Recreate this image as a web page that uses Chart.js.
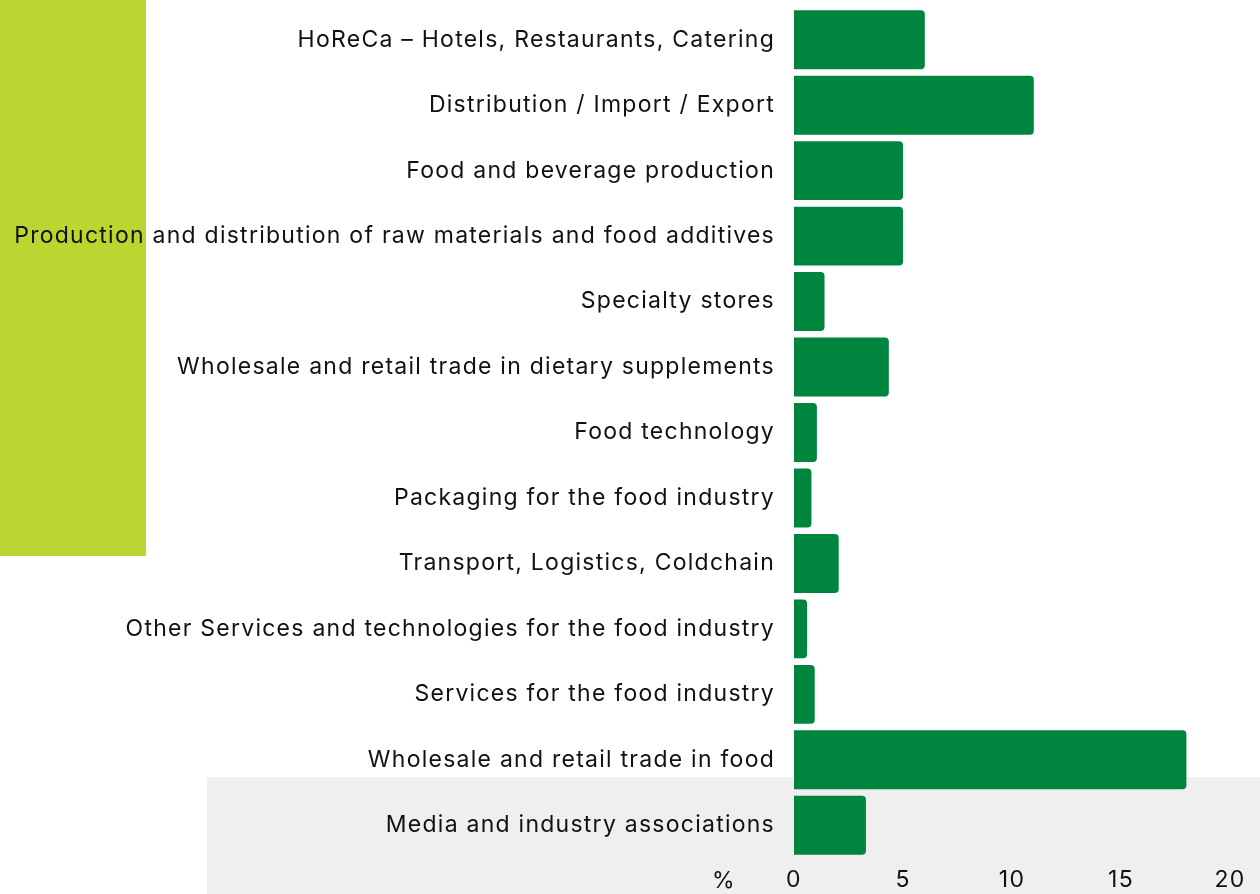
<!DOCTYPE html>
<html>
<head>
<meta charset="utf-8">
<script src="https://cdn.jsdelivr.net/npm/chart.js@4"></script>
<style>
  html, body { margin: 0; padding: 0; background: #ffffff; }
  #wrap { position: relative; width: 1260px; height: 894px; }
</style>
</head>
<body>
<div id="wrap"><canvas id="sectorChart" width="1260" height="894"></canvas></div>
<script>
// Sectors, top to bottom
var sectors = [
  'HoReCa – Hotels, Restaurants, Catering',
  'Distribution / Import / Export',
  'Food and beverage production',
  'Production and distribution of raw materials and food additives',
  'Specialty stores',
  'Wholesale and retail trade in dietary supplements',
  'Food technology',
  'Packaging for the food industry',
  'Transport, Logistics, Coldchain',
  'Other Services and technologies for the food industry',
  'Services for the food industry',
  'Wholesale and retail trade in food',
  'Media and industry associations'
];
// share in %
var shares = [6.0, 11.0, 5.0, 5.0, 1.4, 4.35, 1.05, 0.8, 2.05, 0.6, 0.95, 18.0, 3.3];
var xTicks = [0, 5, 10, 15, 20];

var fontFamily = 'Inter, "Noto Sans", sans-serif';

// background blocks, letter spacing and the % sign
var decoPlugin = {
  id: 'deco',
  beforeUpdate: function (chart) {
    chart.ctx.letterSpacing = '1.25px';
  },
  beforeDraw: function (chart) {
    var ctx = chart.ctx;
    ctx.letterSpacing = '1.25px';
    ctx.save();
    ctx.fillStyle = '#bdd531';
    ctx.fillRect(0, 0, 146, 556);
    ctx.fillStyle = '#efefef';
    ctx.fillRect(207, 777, 1053, 117);
    ctx.restore();
  },
  afterDraw: function (chart) {
    var ctx = chart.ctx;
    var x = chart.scales.x;
    ctx.save();
    ctx.fillStyle = '#111111';
    ctx.font = '23px ' + fontFamily;
    ctx.textAlign = 'center';
    ctx.textBaseline = 'middle';
    ctx.fillText('%', x.getPixelForValue(0) - 70, 881);
    ctx.restore();
  }
};

new Chart(document.getElementById('sectorChart').getContext('2d'), {
  type: 'bar',
  data: {
    labels: sectors,
    datasets: [{
      data: shares,
      backgroundColor: '#00853f',
      borderWidth: 0,
      borderRadius: { topRight: 4, bottomRight: 4 },
      borderSkipped: 'start',
      barPercentage: 0.9,
      categoryPercentage: 1.0
    }]
  },
  options: {
    indexAxis: 'y',
    responsive: false,
    animation: false,
    layout: { padding: { top: 7, right: 30, bottom: 0, left: 0 } },
    plugins: {
      legend: { display: false },
      tooltip: { enabled: false }
    },
    scales: {
      x: {
        min: 0,
        max: 20,
        afterBuildTicks: function (scale) {
          scale.ticks = xTicks.map(function (v) { return { value: v }; });
        },
        afterFit: function (scale) {
          scale.height = 36;
          scale.paddingLeft = 0;
          scale.paddingRight = 0;
        },
        grid: { display: false, drawTicks: false },
        border: { display: false },
        ticks: {
          color: '#111111',
          font: { family: fontFamily, size: 23 },
          padding: 8,
          maxRotation: 0
        }
      },
      y: {
        afterFit: function (scale) {
          scale.width = 794;
          scale.paddingTop = 0;
          scale.paddingBottom = 0;
        },
        grid: { display: false, drawTicks: false },
        border: { display: false },
        ticks: {
          color: '#111111',
          font: { family: fontFamily, size: 23 },
          padding: 19,
          autoSkip: false
        }
      }
    }
  },
  plugins: [decoPlugin]
});
</script>
</body>
</html>
